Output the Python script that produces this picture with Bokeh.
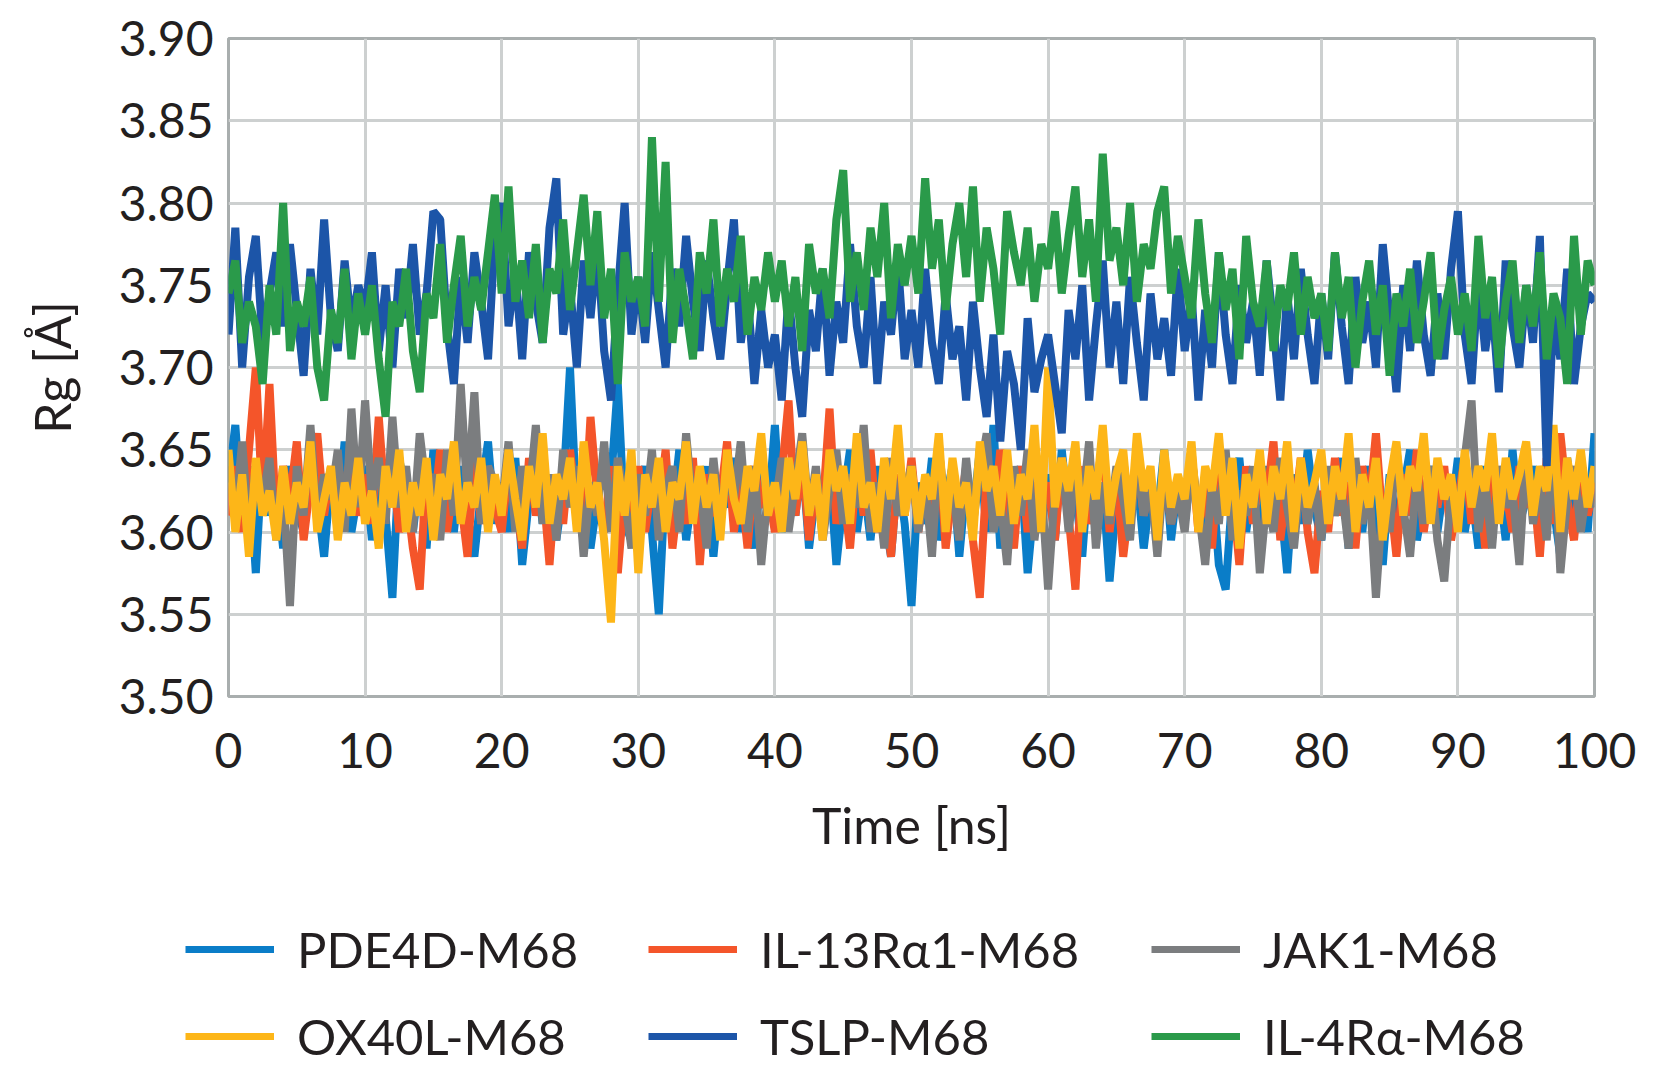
from bokeh.plotting import figure
from bokeh.layouts import column
from bokeh.models import Range1d, FixedTicker, PrintfTickFormatter, Legend, LegendItem
from bokeh.embed import file_html
from bokeh.resources import INLINE

# ---------------- data (Rg in Angstrom, sampled every 0.5 ns) ----------------
time_ns = [i * 0.5 for i in range(201)]

series_names = ["PDE4D-M68", "IL-13R\u03b11-M68", "JAK1-M68",
                "OX40L-M68", "TSLP-M68", "IL-4R\u03b1-M68"]
series_colors = ["#0A7DC8", "#F4552A", "#7B7D7F", "#FDB618", "#1C55A8", "#2A9A4A"]

pde4d = [
    3.630, 3.665, 3.605, 3.640, 3.575, 3.650, 3.610, 3.630, 3.590, 3.640, 3.615, 3.600, 3.645, 3.620, 3.585, 3.635, 3.605, 3.655, 3.600, 3.625,
    3.640, 3.595, 3.630, 3.610, 3.560, 3.645, 3.620, 3.600, 3.635, 3.590, 3.650, 3.615, 3.630, 3.600, 3.640, 3.610, 3.585, 3.625, 3.655, 3.605,
    3.630, 3.600, 3.645, 3.580, 3.620, 3.640, 3.605, 3.635, 3.595, 3.625, 3.700, 3.610, 3.640, 3.590, 3.620, 3.600, 3.630, 3.690, 3.605, 3.595,
    3.620, 3.640, 3.600, 3.550, 3.635, 3.610, 3.650, 3.595, 3.625, 3.605, 3.640, 3.585, 3.630, 3.615, 3.645, 3.600, 3.620, 3.590, 3.640, 3.610,
    3.665, 3.600, 3.630, 3.610, 3.645, 3.590, 3.625, 3.605, 3.640, 3.580, 3.620, 3.650, 3.600, 3.630, 3.595, 3.640, 3.610, 3.585, 3.635, 3.605,
    3.555, 3.630, 3.605, 3.645, 3.595, 3.620, 3.640, 3.585, 3.630, 3.610, 3.650, 3.600, 3.665, 3.590, 3.625, 3.605, 3.640, 3.575, 3.620, 3.600,
    3.635, 3.595, 3.650, 3.610, 3.625, 3.585, 3.640, 3.600, 3.630, 3.570, 3.620, 3.645, 3.605, 3.635, 3.590, 3.625, 3.610, 3.650, 3.595, 3.630,
    3.605, 3.640, 3.615, 3.600, 3.635, 3.580, 3.565, 3.625, 3.645, 3.600, 3.630, 3.590, 3.640, 3.610, 3.620, 3.575, 3.635, 3.605, 3.650, 3.615,
    3.595, 3.630, 3.610, 3.645, 3.590, 3.625, 3.600, 3.640, 3.615, 3.580, 3.635, 3.605, 3.625, 3.650, 3.595, 3.620, 3.640, 3.600, 3.630, 3.610,
    3.645, 3.600, 3.625, 3.590, 3.640, 3.610, 3.630, 3.595, 3.650, 3.605, 3.620, 3.640, 3.600, 3.635, 3.615, 3.585, 3.645, 3.610, 3.630, 3.600, 3.660,
]

il13ra1 = [
    3.610, 3.640, 3.600, 3.650, 3.700, 3.615, 3.690, 3.605, 3.640, 3.620, 3.655, 3.595, 3.630, 3.660, 3.610, 3.640, 3.600, 3.625, 3.650, 3.610,
    3.635, 3.605, 3.670, 3.615, 3.640, 3.600, 3.625, 3.590, 3.565, 3.640, 3.610, 3.650, 3.600, 3.630, 3.620, 3.585, 3.645, 3.605, 3.635, 3.615,
    3.600, 3.640, 3.620, 3.590, 3.645, 3.610, 3.630, 3.580, 3.635, 3.605, 3.650, 3.615, 3.595, 3.670, 3.620, 3.600, 3.640, 3.575, 3.625, 3.610,
    3.640, 3.600, 3.630, 3.615, 3.650, 3.590, 3.625, 3.605, 3.645, 3.580, 3.635, 3.610, 3.620, 3.655, 3.600, 3.630, 3.590, 3.640, 3.615, 3.625,
    3.600, 3.635, 3.680, 3.610, 3.645, 3.595, 3.630, 3.615, 3.675, 3.605, 3.625, 3.590, 3.640, 3.610, 3.650, 3.600, 3.620, 3.585, 3.635, 3.610,
    3.645, 3.600, 3.630, 3.615, 3.655, 3.590, 3.625, 3.610, 3.640, 3.595, 3.560, 3.635, 3.605, 3.650, 3.615, 3.590, 3.640, 3.600, 3.630, 3.615,
    3.630, 3.595, 3.645, 3.610, 3.565, 3.640, 3.605, 3.625, 3.655, 3.600, 3.635, 3.585, 3.620, 3.645, 3.610, 3.630, 3.595, 3.640, 3.605, 3.625,
    3.610, 3.650, 3.600, 3.630, 3.590, 3.645, 3.615, 3.625, 3.580, 3.640, 3.605, 3.635, 3.620, 3.655, 3.595, 3.630, 3.610, 3.645, 3.600, 3.575,
    3.625, 3.600, 3.645, 3.610, 3.630, 3.590, 3.640, 3.615, 3.660, 3.605, 3.625, 3.585, 3.635, 3.610, 3.650, 3.600, 3.630, 3.615, 3.640, 3.595,
    3.620, 3.645, 3.605, 3.635, 3.590, 3.650, 3.610, 3.625, 3.600, 3.640, 3.615, 3.630, 3.585, 3.645, 3.605, 3.660, 3.620, 3.595, 3.640, 3.610, 3.630,
]

jak1 = [
    3.640, 3.610, 3.655, 3.600, 3.630, 3.620, 3.645, 3.595, 3.625, 3.555, 3.640, 3.610, 3.665, 3.605, 3.635, 3.620, 3.650, 3.600, 3.675, 3.615,
    3.680, 3.620, 3.645, 3.605, 3.670, 3.615, 3.640, 3.600, 3.660, 3.625, 3.635, 3.595, 3.650, 3.610, 3.690, 3.620, 3.685, 3.605, 3.640, 3.630,
    3.615, 3.655, 3.600, 3.640, 3.620, 3.665, 3.605, 3.635, 3.595, 3.650, 3.615, 3.640, 3.585, 3.630, 3.610, 3.655, 3.600, 3.645, 3.620, 3.590,
    3.635, 3.610, 3.650, 3.595, 3.625, 3.640, 3.600, 3.660, 3.615, 3.630, 3.590, 3.645, 3.605, 3.635, 3.620, 3.655, 3.600, 3.640, 3.580, 3.625,
    3.615, 3.645, 3.600, 3.630, 3.660, 3.610, 3.640, 3.595, 3.625, 3.650, 3.605, 3.635, 3.615, 3.665, 3.600, 3.630, 3.590, 3.645, 3.610, 3.625,
    3.640, 3.600, 3.630, 3.585, 3.650, 3.615, 3.625, 3.595, 3.645, 3.605, 3.635, 3.660, 3.600, 3.620, 3.580, 3.640, 3.610, 3.650, 3.595, 3.630,
    3.565, 3.625, 3.645, 3.600, 3.635, 3.615, 3.655, 3.590, 3.630, 3.605, 3.640, 3.620, 3.595, 3.650, 3.610, 3.630, 3.585, 3.640, 3.605, 3.625,
    3.600, 3.645, 3.615, 3.580, 3.630, 3.605, 3.650, 3.595, 3.625, 3.610, 3.640, 3.575, 3.620, 3.600, 3.645, 3.615, 3.590, 3.635, 3.605, 3.630,
    3.595, 3.640, 3.610, 3.625, 3.590, 3.645, 3.605, 3.630, 3.560, 3.620, 3.600, 3.650, 3.615, 3.585, 3.635, 3.605, 3.640, 3.595, 3.570, 3.625,
    3.610, 3.645, 3.680, 3.600, 3.630, 3.590, 3.640, 3.615, 3.625, 3.580, 3.650, 3.605, 3.630, 3.595, 3.660, 3.575, 3.620, 3.640, 3.600, 3.630, 3.615,
]

ox40l = [
    3.650, 3.600, 3.635, 3.585, 3.645, 3.610, 3.625, 3.595, 3.640, 3.605, 3.630, 3.615, 3.655, 3.600, 3.620, 3.640, 3.595, 3.630, 3.610, 3.645,
    3.605, 3.625, 3.590, 3.640, 3.615, 3.650, 3.600, 3.630, 3.610, 3.645, 3.595, 3.635, 3.620, 3.655, 3.605, 3.630, 3.615, 3.645, 3.600, 3.635,
    3.610, 3.650, 3.620, 3.595, 3.640, 3.615, 3.660, 3.605, 3.635, 3.620, 3.645, 3.600, 3.655, 3.615, 3.630, 3.595, 3.545, 3.640, 3.610, 3.650,
    3.575, 3.635, 3.615, 3.645, 3.600, 3.630, 3.620, 3.655, 3.605, 3.640, 3.615, 3.635, 3.595, 3.650, 3.620, 3.605, 3.640, 3.625, 3.660, 3.610,
    3.630, 3.600, 3.645, 3.620, 3.655, 3.610, 3.635, 3.595, 3.650, 3.625, 3.640, 3.605, 3.660, 3.615, 3.630, 3.600, 3.645, 3.620, 3.665, 3.610,
    3.640, 3.605, 3.635, 3.620, 3.660, 3.600, 3.645, 3.615, 3.630, 3.595, 3.655, 3.625, 3.640, 3.610, 3.650, 3.605, 3.635, 3.620, 3.665, 3.600,
    3.700, 3.615, 3.645, 3.625, 3.655, 3.600, 3.640, 3.620, 3.665, 3.610, 3.635, 3.650, 3.605, 3.660, 3.625, 3.640, 3.595, 3.650, 3.615, 3.635,
    3.620, 3.655, 3.600, 3.640, 3.625, 3.660, 3.610, 3.645, 3.590, 3.635, 3.615, 3.650, 3.605, 3.640, 3.620, 3.655, 3.600, 3.645, 3.615, 3.630,
    3.650, 3.605, 3.640, 3.620, 3.660, 3.600, 3.635, 3.615, 3.645, 3.595, 3.630, 3.655, 3.610, 3.640, 3.625, 3.660, 3.605, 3.645, 3.620, 3.635,
    3.600, 3.650, 3.615, 3.640, 3.625, 3.660, 3.605, 3.645, 3.620, 3.635, 3.655, 3.610, 3.640, 3.625, 3.665, 3.600, 3.645, 3.620, 3.650, 3.615, 3.640,
]

tslp = [
    3.720, 3.785, 3.700, 3.755, 3.780, 3.715, 3.745, 3.770, 3.725, 3.775, 3.735, 3.695, 3.760, 3.720, 3.790, 3.730, 3.710, 3.765, 3.725, 3.750,
    3.735, 3.770, 3.710, 3.750, 3.700, 3.760, 3.730, 3.775, 3.720, 3.745, 3.795, 3.790, 3.725, 3.690, 3.755, 3.715, 3.770, 3.740, 3.705, 3.780,
    3.800, 3.725, 3.760, 3.705, 3.770, 3.740, 3.715, 3.785, 3.815, 3.720, 3.750, 3.700, 3.765, 3.730, 3.775, 3.710, 3.680, 3.745, 3.800, 3.720,
    3.755, 3.715, 3.770, 3.735, 3.700, 3.760, 3.725, 3.780, 3.740, 3.710, 3.765, 3.730, 3.705, 3.750, 3.790, 3.715, 3.745, 3.690, 3.735, 3.700,
    3.720, 3.680, 3.745, 3.700, 3.670, 3.735, 3.710, 3.760, 3.695, 3.740, 3.715, 3.775, 3.725, 3.700, 3.755, 3.690, 3.740, 3.720, 3.765, 3.705,
    3.735, 3.700, 3.760, 3.715, 3.690, 3.745, 3.705, 3.725, 3.680, 3.740, 3.700, 3.670, 3.720, 3.655, 3.710, 3.690, 3.650, 3.730, 3.685, 3.705,
    3.720, 3.690, 3.660, 3.735, 3.705, 3.750, 3.680, 3.725, 3.765, 3.700, 3.740, 3.690, 3.755, 3.715, 3.680, 3.745, 3.705, 3.730, 3.695, 3.760,
    3.710, 3.745, 3.680, 3.735, 3.700, 3.770, 3.720, 3.690, 3.750, 3.715, 3.740, 3.695, 3.765, 3.725, 3.680, 3.745, 3.705, 3.760, 3.720, 3.690,
    3.745, 3.705, 3.770, 3.725, 3.690, 3.755, 3.715, 3.740, 3.700, 3.775, 3.730, 3.685, 3.750, 3.710, 3.765, 3.720, 3.695, 3.745, 3.705, 3.760,
    3.795, 3.720, 3.690, 3.755, 3.710, 3.740, 3.685, 3.765, 3.725, 3.700, 3.750, 3.715, 3.780, 3.640, 3.735, 3.705, 3.760, 3.690, 3.725, 3.745, 3.740,
]

il4ra = [
    3.745, 3.765, 3.715, 3.740, 3.725, 3.690, 3.750, 3.720, 3.800, 3.710, 3.740, 3.725, 3.755, 3.700, 3.680, 3.735, 3.715, 3.760, 3.705, 3.745,
    3.720, 3.750, 3.705, 3.670, 3.740, 3.725, 3.760, 3.710, 3.685, 3.745, 3.730, 3.775, 3.715, 3.750, 3.780, 3.725, 3.755, 3.735, 3.770, 3.805,
    3.745, 3.810, 3.740, 3.765, 3.730, 3.775, 3.715, 3.760, 3.745, 3.790, 3.735, 3.770, 3.805, 3.750, 3.795, 3.730, 3.760, 3.690, 3.770, 3.740,
    3.755, 3.725, 3.840, 3.740, 3.825, 3.715, 3.760, 3.735, 3.705, 3.770, 3.745, 3.790, 3.725, 3.760, 3.740, 3.780, 3.720, 3.755, 3.735, 3.770,
    3.740, 3.765, 3.725, 3.755, 3.710, 3.775, 3.745, 3.760, 3.730, 3.790, 3.820, 3.740, 3.770, 3.735, 3.785, 3.755, 3.800, 3.730, 3.775, 3.750,
    3.780, 3.745, 3.815, 3.760, 3.790, 3.735, 3.775, 3.800, 3.755, 3.810, 3.740, 3.785, 3.760, 3.720, 3.795, 3.770, 3.750, 3.785, 3.740, 3.775,
    3.760, 3.795, 3.745, 3.780, 3.810, 3.755, 3.790, 3.740, 3.830, 3.765, 3.785, 3.750, 3.800, 3.740, 3.775, 3.760, 3.795, 3.810, 3.745, 3.780,
    3.755, 3.730, 3.790, 3.745, 3.715, 3.770, 3.735, 3.760, 3.705, 3.780, 3.740, 3.725, 3.765, 3.710, 3.750, 3.735, 3.770, 3.720, 3.755, 3.730,
    3.745, 3.710, 3.770, 3.730, 3.755, 3.700, 3.740, 3.765, 3.720, 3.750, 3.695, 3.745, 3.725, 3.760, 3.715, 3.740, 3.770, 3.705, 3.735, 3.755,
    3.720, 3.745, 3.710, 3.780, 3.730, 3.755, 3.700, 3.740, 3.765, 3.715, 3.750, 3.725, 3.770, 3.705, 3.745, 3.730, 3.690, 3.780, 3.720, 3.765, 3.750,
]

series_values = [pde4d, il13ra1, jak1, ox40l, tslp, il4ra]

y_ticks = [3.50, 3.55, 3.60, 3.65, 3.70, 3.75, 3.80, 3.85, 3.90]
x_ticks = [0, 10, 20, 30, 40, 50, 60, 70, 80, 90, 100]

FONT = "Lato"
GRID = "#CDD0D0"
FRAME = "#A9AEAE"
INK = "#231F20"
LINE_W = 8

# ---------------- main chart ----------------
p = figure(frame_width=1366, frame_height=658,
           x_range=Range1d(0, 100), y_range=Range1d(3.50, 3.90),
           output_backend="svg", toolbar_location=None,
           min_border_left=228, min_border_right=61,
           min_border_top=38, min_border_bottom=180)
p.background_fill_color = "white"
p.border_fill_color = "white"
p.outline_line_color = FRAME
p.outline_line_width = 3

for name, vals, col in zip(series_names, series_values, series_colors):
    p.line(time_ns[:len(vals)], vals, line_color=col, line_width=LINE_W)

p.xaxis.ticker = FixedTicker(ticks=x_ticks)
p.yaxis.ticker = FixedTicker(ticks=y_ticks)
p.yaxis.formatter = PrintfTickFormatter(format="%.2f")
for ax in (p.xaxis[0], p.yaxis[0]):
    ax.axis_line_color = None
    ax.major_tick_line_color = None
    ax.minor_tick_line_color = None
    ax.major_label_text_font = FONT
    ax.major_label_text_font_size = "48px"
    ax.major_label_text_color = INK
    ax.axis_label_text_font = FONT
    ax.axis_label_text_font_size = "50px"
    ax.axis_label_text_font_style = "normal"
    ax.axis_label_text_color = INK

p.xaxis.axis_label = "Time [ns]"
p.yaxis.axis_label = "Rg [\u00c5]"
p.xaxis.major_label_standoff = 30
p.xaxis.axis_label_standoff = 24
p.yaxis.major_label_standoff = 9
p.yaxis.axis_label_standoff = 34

p.xgrid.ticker = FixedTicker(ticks=x_ticks)
p.ygrid.ticker = FixedTicker(ticks=y_ticks)
for g in (p.xgrid[0], p.ygrid[0]):
    g.grid_line_color = GRID
    g.grid_line_width = 3

# ---------------- legend strip under the chart ----------------
# same series drawn again, kept outside this strip's visible y-range, so that
# the legend keys carry each series' colour and width
lg = figure(width=1655, height=202, x_range=Range1d(0, 1), y_range=Range1d(0, 1),
            output_backend="svg", toolbar_location=None,
            x_axis_location=None, y_axis_location=None, min_border=0)
lg.grid.visible = False
lg.outline_line_color = None
lg.background_fill_color = "white"
lg.border_fill_color = "white"
for fig in (p, lg):
    if "frame_align" in fig.properties():
        fig.frame_align = False

keys = [lg.line(time_ns[:len(v)], v, line_color=c, line_width=7)
        for v, c in zip(series_values, series_colors)]

columns = [(0, 3), (1, 4), (2, 5)]
x_offsets = [185, 648, 1151]
for (a, b), xo in zip(columns, x_offsets):
    leg = Legend(items=[LegendItem(label=series_names[a], renderers=[keys[a]]),
                        LegendItem(label=series_names[b], renderers=[keys[b]])],
                 location=(xo, 12), orientation="vertical",
                 glyph_width=89, glyph_height=60, label_height=60,
                 label_standoff=23, spacing=27, padding=0, margin=0,
                 border_line_color=None, background_fill_alpha=0,
                 label_text_font=FONT, label_text_font_size="49px",
                 label_text_color=INK)
    lg.add_layout(leg, "center")

open("out.html", "w").write(file_html(column(p, lg, spacing=0), INLINE))
